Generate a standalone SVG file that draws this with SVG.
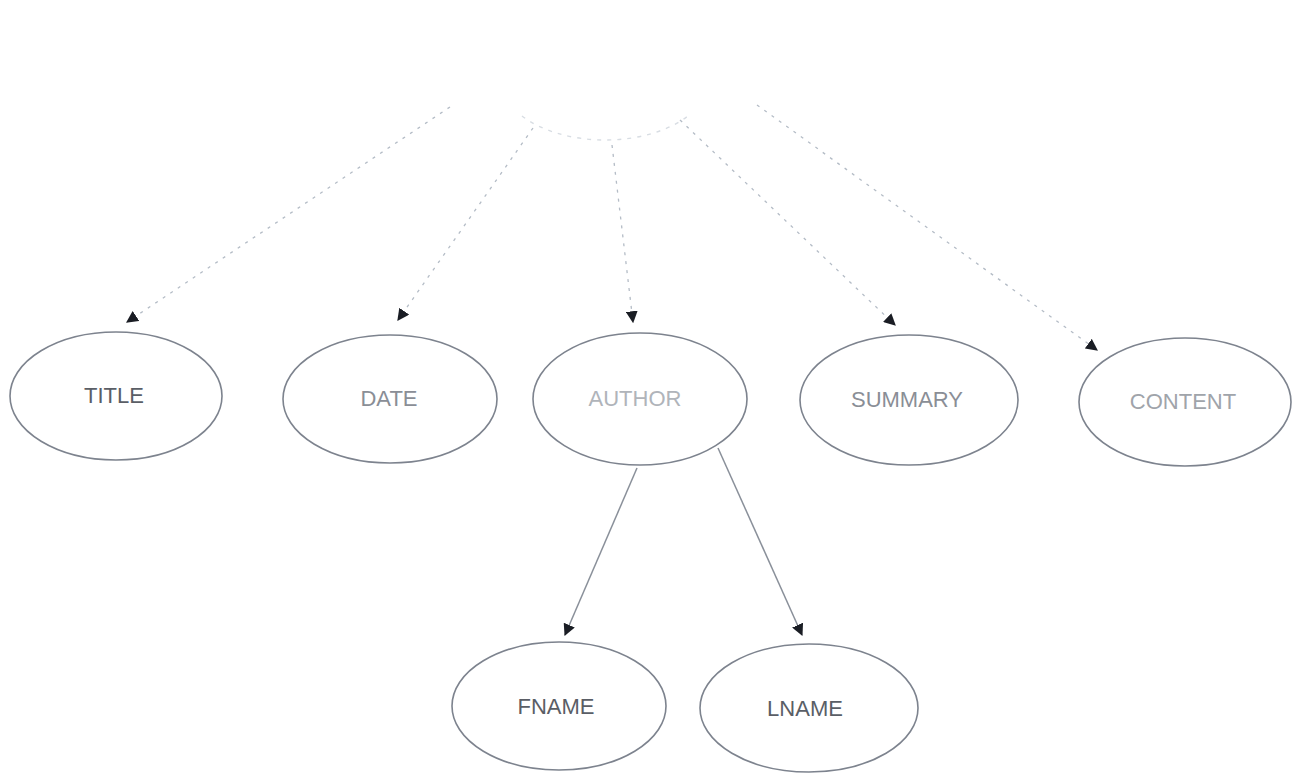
<svg xmlns="http://www.w3.org/2000/svg" width="1292" height="776" viewBox="0 0 1292 776">
<style>
.node{fill:#ffffff;stroke:#7d838e;stroke-width:1.6}
.faint{fill:none;stroke:#d8dde3;stroke-width:1.4;stroke-dasharray:4 6}
.lbl{font-family:"Liberation Sans",Arial,sans-serif;font-size:22px;text-anchor:middle;dominant-baseline:central}
.dot{fill:none;stroke:#b4bcc6;stroke-width:1.3;stroke-dasharray:3 6}
.solid{fill:none;stroke:#8a909a;stroke-width:1.5}
</style>
<defs>
<marker id="ah" viewBox="0 0 10 10" refX="9" refY="5" markerWidth="12" markerHeight="12" markerUnits="userSpaceOnUse" orient="auto">
<path d="M0,0 L10,5 L0,10 z" fill="#1a1d24"/>
</marker>
</defs>
<g id="root"><path class="faint" d="M522,116 A105,62 0 0 0 688,116"/></g>
<g id="connectors">
<line class="dot" x1="450" y1="107" x2="127" y2="322" marker-end="url(#ah)"/>
<line class="dot" x1="533" y1="128" x2="398" y2="320" marker-end="url(#ah)"/>
<line class="dot" x1="612" y1="145" x2="633" y2="322" marker-end="url(#ah)"/>
<line class="dot" x1="680" y1="120" x2="895" y2="325" marker-end="url(#ah)"/>
<line class="dot" x1="757" y1="105" x2="1097" y2="350" marker-end="url(#ah)"/>
<line class="solid" x1="637" y1="468" x2="565" y2="635" marker-end="url(#ah)"/>
<line class="solid" x1="718" y1="448" x2="802" y2="635" marker-end="url(#ah)"/>
</g>
<g id="title"><ellipse class="node" cx="116" cy="396" rx="106" ry="64"/><text class="lbl" x="114" y="395" fill="#5a5e66">TITLE</text></g>
<g id="date"><ellipse class="node" cx="390" cy="399" rx="107" ry="64"/><text class="lbl" x="389" y="398" fill="#8a8e96">DATE</text></g>
<g id="author"><ellipse class="node" cx="640" cy="399" rx="107" ry="66"/><text class="lbl" x="635" y="398" fill="#b0b4ba">AUTHOR</text></g>
<g id="summary"><ellipse class="node" cx="909" cy="400" rx="109" ry="65"/><text class="lbl" x="907" y="399" fill="#8a8e96">SUMMARY</text></g>
<g id="content"><ellipse class="node" cx="1185" cy="402" rx="106" ry="64"/><text class="lbl" x="1183" y="401" fill="#a0a4aa">CONTENT</text></g>
<g id="fname"><ellipse class="node" cx="559" cy="706" rx="107" ry="64"/><text class="lbl" x="556" y="706" fill="#5a5e66">FNAME</text></g>
<g id="lname"><ellipse class="node" cx="809" cy="708" rx="109" ry="64"/><text class="lbl" x="805" y="708" fill="#5a5e66">LNAME</text></g>
</svg>
